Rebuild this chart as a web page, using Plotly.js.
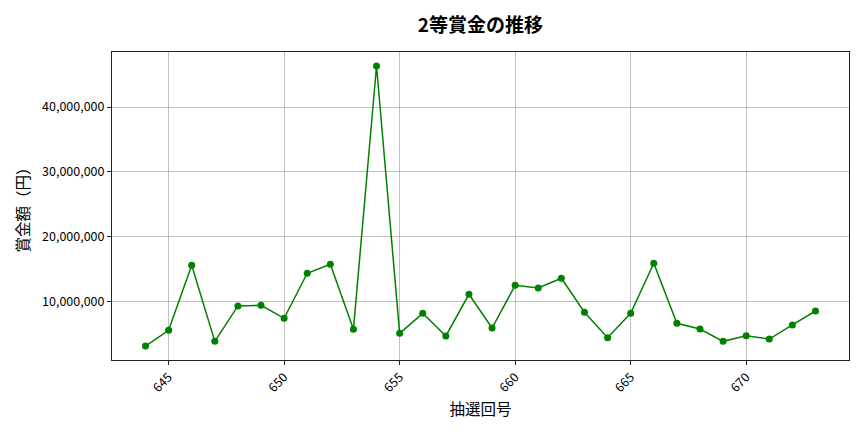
<!DOCTYPE html>
<html>
<head>
<meta charset="utf-8">
<script src="https://cdn.plot.ly/plotly-3.0.1.min.js"></script>
<style>
  html, body { margin: 0; padding: 0; background: #fff; }
  #chart { width: 864px; height: 432px; }
</style>
</head>
<body>
<div id="chart"></div>
<script>
// draw numbers (抽選回号) and 2nd prize amounts (円)
const drawNumbers = [644, 645, 646, 647, 648, 649, 650, 651, 652, 653,
                     654, 655, 656, 657, 658, 659, 660, 661, 662, 663,
                     664, 665, 666, 667, 668, 669, 670, 671, 672, 673];
const prizeValues = [3090000, 5520000, 15570000, 3810000, 9280000, 9380000, 7370000, 14330000, 15720000, 5670000,
                     46340000, 5050000, 8140000, 4640000, 11080000, 5870000, 12470000, 12060000, 13550000, 8300000,
                     4380000, 8140000, 15870000, 6600000, 5720000, 3810000, 4690000, 4170000, 6340000, 8500000];
const yTickValues = [10000000, 20000000, 30000000, 40000000];
const xTickValues = [645, 650, 655, 660, 665, 670];

const font = 'Noto Sans CJK JP, Noto Sans, sans-serif';

function drawChart() {
    const trace = {
        x: drawNumbers,
        y: prizeValues,
        type: 'scatter',
        mode: 'lines+markers',
        line: { color: 'green', width: 1.5 },
        marker: { color: 'green', size: 7 },
        hoverinfo: 'x+y'
    };

    const axisCommon = {
        showline: true,
        linecolor: '#222',
        linewidth: 1,
        mirror: true,
        ticks: 'outside',
        ticklen: 4,
        tickwidth: 1,
        tickcolor: '#222',
        showgrid: true,
        gridcolor: '#b0b0b0',
        gridwidth: 0.8,
        zeroline: false,
        tickfont: { family: font, size: 12.5, color: '#000' }
    };

    const layout = {
        width: 864,
        height: 432,
        margin: { l: 112, r: 15, t: 52, b: 72 },
        paper_bgcolor: '#fff',
        plot_bgcolor: '#fff',
        showlegend: false,
        font: { family: font, color: '#000' },
        title: {
            text: '<b>2等賞金の推移</b>',
            font: { family: font, size: 19, color: '#000' },
            x: 0.556,
            xanchor: 'center',
            y: 0.942,
            yanchor: 'middle',
            yref: 'container'
        },
        xaxis: Object.assign({}, axisCommon, {
            range: [642.55, 674.45],
            tickmode: 'array',
            tickvals: xTickValues,
            ticktext: xTickValues.map(String),
            tickangle: -45,
            title: {
                text: '抽選回号',
                font: { family: font, size: 15.5, color: '#000' },
                standoff: 9
            }
        }),
        yaxis: Object.assign({}, axisCommon, {
            range: [930000, 48500000],
            tickmode: 'array',
            tickvals: yTickValues,
            ticktext: yTickValues.map(v => v.toLocaleString('en-US')),
            title: {
                text: '賞金額（円）',
                font: { family: font, size: 15.5, color: '#000' },
                standoff: 8
            }
        })
    };

    Plotly.newPlot('chart', [trace], layout, { displayModeBar: false, staticPlot: true });
}

document.addEventListener('DOMContentLoaded', drawChart);
</script>
</body>
</html>
